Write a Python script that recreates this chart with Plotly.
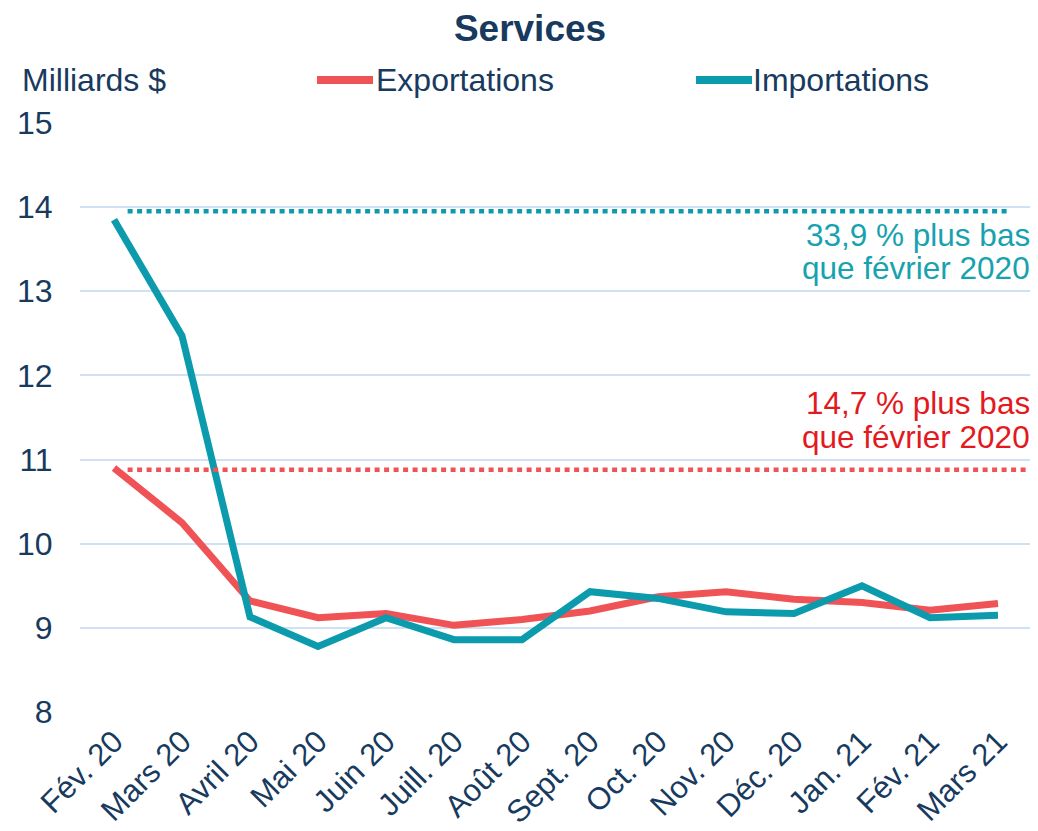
import plotly.graph_objects as go

months = ["Fév. 20", "Mars 20", "Avril 20", "Mai 20", "Juin 20", "Juill. 20", "Août 20",
          "Sept. 20", "Oct. 20", "Nov. 20", "Déc. 20", "Jan. 21", "Fév. 21", "Mars 21"]
exportations = [10.90, 10.25, 9.32, 9.12, 9.17, 9.03, 9.10, 9.20, 9.37, 9.43, 9.34, 9.30, 9.21, 9.29]
importations = [13.85, 12.47, 9.13, 8.78, 9.12, 8.86, 8.86, 9.43, 9.35, 9.19, 9.17, 9.50, 9.12, 9.15]
ref_export_level = 10.88
ref_import_level = 13.95
y_ticks = [8, 9, 10, 11, 12, 13, 14, 15]

NAVY = "#173A5E"
RED = "#F05356"
TEAL = "#0B9BAD"
RED_TXT = "#E3191E"
TEAL_TXT = "#17A2B0"
GRID = "#CFE1F2"
FONT = "Liberation Sans, Arial, sans-serif"

# page body has an 8px margin: figure is laid out 8px smaller so it fits the window
W, H = 1030, 823
L, R, T, B = 72, 6, 115, 119
PW, PH = W - L - R, H - T - B


def px_x(x):
    return (x - L) / PW


def px_y(y):
    return (H - B - y) / PH


fig = go.Figure()
fig.add_trace(go.Scatter(x=months, y=exportations, mode="lines", name="Exportations",
                         line=dict(color=RED, width=7)))
fig.add_trace(go.Scatter(x=months, y=importations, mode="lines", name="Importations",
                         line=dict(color=TEAL, width=7)))

fig.add_shape(type="line", xref="x", yref="y", x0=0.2, x1=13.14,
              y0=ref_import_level, y1=ref_import_level,
              line=dict(color=TEAL, width=4.5, dash="5px,4.5px"))
fig.add_shape(type="line", xref="x", yref="y", x0=0.2, x1=13.47,
              y0=ref_export_level, y1=ref_export_level,
              line=dict(color=RED, width=4.5, dash="5px,4.5px"))


def note(text, y, color):
    fig.add_annotation(text=text, xref="paper", x=1.0, xanchor="right", yref="y", y=y,
                       yanchor="middle", showarrow=False,
                       font=dict(family=FONT, size=31.5, color=color))


note("33,9 % plus bas", 13.67, TEAL_TXT)
note("que février 2020", 13.28, TEAL_TXT)
note("14,7 % plus bas", 11.67, RED_TXT)
note("que février 2020", 11.27, RED_TXT)

# header row: unit label and legend keys
row_y = px_y(72)
fig.add_annotation(text="Milliards $", xref="paper", x=px_x(12), xanchor="left",
                   yref="paper", y=row_y, yanchor="middle", showarrow=False,
                   font=dict(family=FONT, size=32, color=NAVY))
for name, color, x0, x1, xt in [("Exportations", RED, 309, 365, 366),
                                 ("Importations", TEAL, 688, 744, 743)]:
    fig.add_shape(type="line", xref="paper", yref="paper", x0=px_x(x0), x1=px_x(x1),
                  y0=row_y, y1=row_y, line=dict(color=color, width=8))
    fig.add_annotation(text=name, xref="paper", x=px_x(xt), xanchor="left",
                       yref="paper", y=row_y, yanchor="middle", showarrow=False,
                       font=dict(family=FONT, size=32, color=NAVY))

fig.update_layout(
    width=W, height=H,
    margin=dict(l=L, r=R, t=T, b=B, autoexpand=False),
    paper_bgcolor="white", plot_bgcolor="white",
    font=dict(family=FONT, size=32, color=NAVY),
    title=dict(text="<b>Services</b>", x=(530 - 8) / W, xanchor="center",
               y=1 - 20 / H, yanchor="middle",
               font=dict(family=FONT, size=37, color=NAVY)),
    showlegend=False,
)
fig.update_xaxes(type="category", range=[-0.5, 13.5], tickangle=-45, showgrid=False,
                 showline=False, zeroline=False, ticks="", ticklabelstandoff=4,
                 automargin=False, tickfont=dict(size=31, color=NAVY))
fig.update_yaxes(range=[8, 15], tickvals=y_ticks, showgrid=True, gridcolor=GRID, gridwidth=1.5,
                 zeroline=False, showline=False, ticks="outside", ticklen=20,
                 automargin=False, tickcolor="rgba(0,0,0,0)", tickfont=dict(size=32, color=NAVY))

fig.write_html("out.html")
